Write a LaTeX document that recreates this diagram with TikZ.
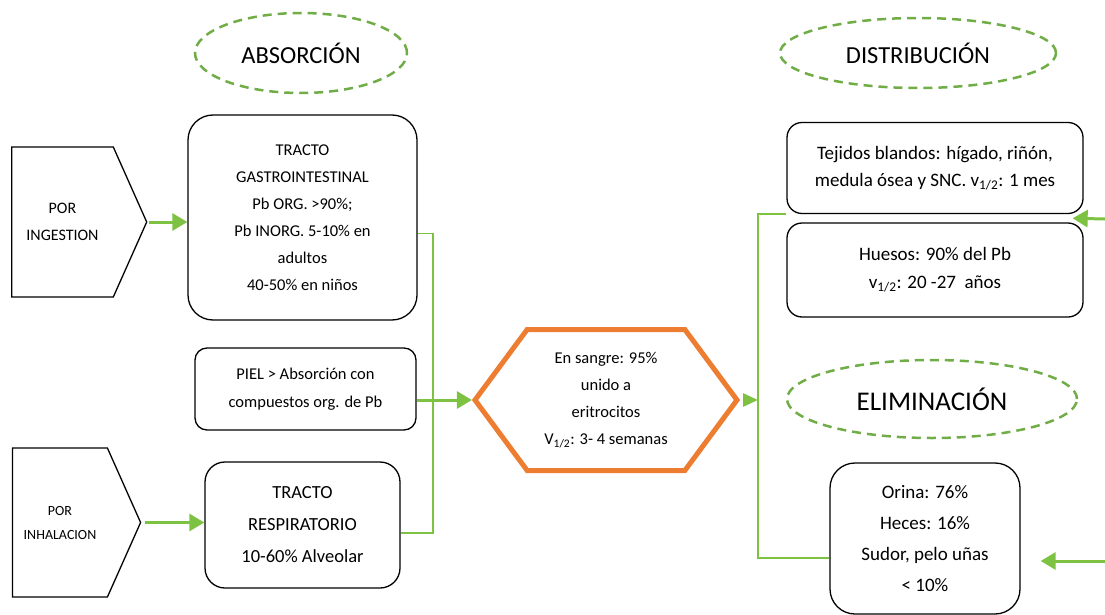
\documentclass[tikz,border=0pt]{standalone}
\usepackage{fontspec}
\setmainfont{Carlito}
\usepackage{tikz}
\usetikzlibrary{positioning, calc, arrows.meta, shapes.geometric, shapes.symbols}
\definecolor{verde}{HTML}{7DC242}
\definecolor{verdeosc}{HTML}{70AD47}
\definecolor{naranja}{HTML}{ED7D31}
\tikzset{>=latex}
\tikzset{
    caja/.style={draw, rounded corners=#1, line width=1.3pt, align=center, inner sep=0},
    entrada/.style={signal, signal to=east, signal pointer angle=132, draw, line width=1.3pt, align=center, inner sep=0},
    titulo/.style={ellipse, draw=verdeosc, line width=2.5pt, dash pattern=on 9pt off 6pt, inner sep=0},
    linea/.style={draw=verde, line width=1.6pt},
    flecha/.style={draw=verde, line width=3pt, -{Triangle[length=15pt,width=17pt]}},
}

\begin{document}
\begin{tikzpicture}[x=1pt,y=-1pt]
    \useasboundingbox (0,0) rectangle (1105,615);
    % titulos
    \node[titulo, minimum width=212pt, minimum height=80pt, font=\fontsize{24.5}{28}\selectfont] (abs) at (301,53) {ABSORCIÓN};
    \node[titulo, minimum width=276pt, minimum height=70pt, font=\fontsize{24.5}{28}\selectfont] (dis) at (918,53) {DISTRIBUCIÓN};
    \node[titulo, minimum width=290pt, minimum height=78pt, font=\fontsize{27}{30}\selectfont] (eli) at (932,399) {ELIMINACIÓN};
    % entradas
    \node[entrada, minimum width=135pt, minimum height=150pt, font=\fontsize{16}{27}\selectfont] (ing) at (62.5,222) {POR\\INGESTION};
    \node[entrada, minimum width=128pt, minimum height=149pt, font=\fontsize{14}{24}\selectfont] (inh) at (60,522.5) {POR\\INHALACION};
    % absorcion
    \node[caja=25pt, minimum width=229pt, minimum height=205pt, font=\fontsize{16.5}{27}\selectfont] (gi) at (302.5,217.5)
        {TRACTO\\GASTROINTESTINAL\\Pb ORG. >90\%;\\Pb INORG. 5-10\% en\\adultos\\40-50\% en niños};
    \node[caja=12pt, minimum width=221pt, minimum height=82pt, font=\fontsize{16.5}{28}\selectfont] (piel) at (305.5,389)
        {PIEL > Absorción con\\compuestos org. de Pb};
    \node[caja=20pt, minimum width=195pt, minimum height=126pt, font=\fontsize{18.5}{32}\selectfont] (resp) at (302.5,525)
        {TRACTO\\RESPIRATORIO\\10-60\% Alveolar};
    % sangre
    \node[signal, signal to=east and west, signal pointer angle=107, draw=naranja, line width=5pt,
        minimum width=262pt, minimum height=141pt, inner sep=0, align=center, font=\fontsize{16.5}{27}\selectfont] (sangre) at (606,400)
        {En sangre: 95\%\\unido a\\eritrocitos\\V\textsubscript{1/2}: 3- 4 semanas};
    % distribucion
    \node[caja=15pt, minimum width=296pt, minimum height=91pt, font=\fontsize{19}{27}\selectfont] (tej) at (935,168)
        {Tejidos blandos: hígado, riñón,\\medula ósea y SNC. v\textsubscript{1/2}: 1 mes};
    \node[caja=15pt, minimum width=296pt, minimum height=94pt, font=\fontsize{19}{28}\selectfont] (hue) at (935,270)
        {Huesos: 90\% del Pb\\v\textsubscript{1/2}: 20 -27~ años};
    % eliminacion
    \node[caja=25pt, minimum width=190pt, minimum height=151pt, font=\fontsize{19}{31}\selectfont] (elim) at (925,538.5)
        {Orina: 76\%\\Heces: 16\%\\Sudor, pelo uñas\\< 10\%};
    \coordinate (colA) at (433,400);
    \coordinate (busB) at (758,558);
    \coordinate (dR) at (1105,219);
    \coordinate (eR) at (1105,561);
    % conexiones
    \draw[linea] ([yshift=-16pt]gi.east) -| (colA) |- ([yshift=-8pt]resp.east);
    \draw[linea] (tej.south west) -| (busB) -- (elim.west |- busB);
    \path
        (ing.east)  edge[flecha, shorten <=2pt]  (gi.west |- ing.east)
        (inh.east)  edge[flecha, shorten <=4pt]  (resp.west |- inh.east)
        (piel.east |- sangre.west)  edge[flecha]  (sangre.west)
        (sangre.east)  edge[flecha, -{Triangle[length=15pt,width=13pt]}, shorten <=3pt]  (busB |- sangre.east)
        (dR)  edge[flecha]  ([xshift=-11pt]$(tej.south east)!.5!(hue.north east)$)
        (eR)  edge[flecha, shorten >=20pt]  (elim.east |- eR)
    ;
\end{tikzpicture}
\end{document}
